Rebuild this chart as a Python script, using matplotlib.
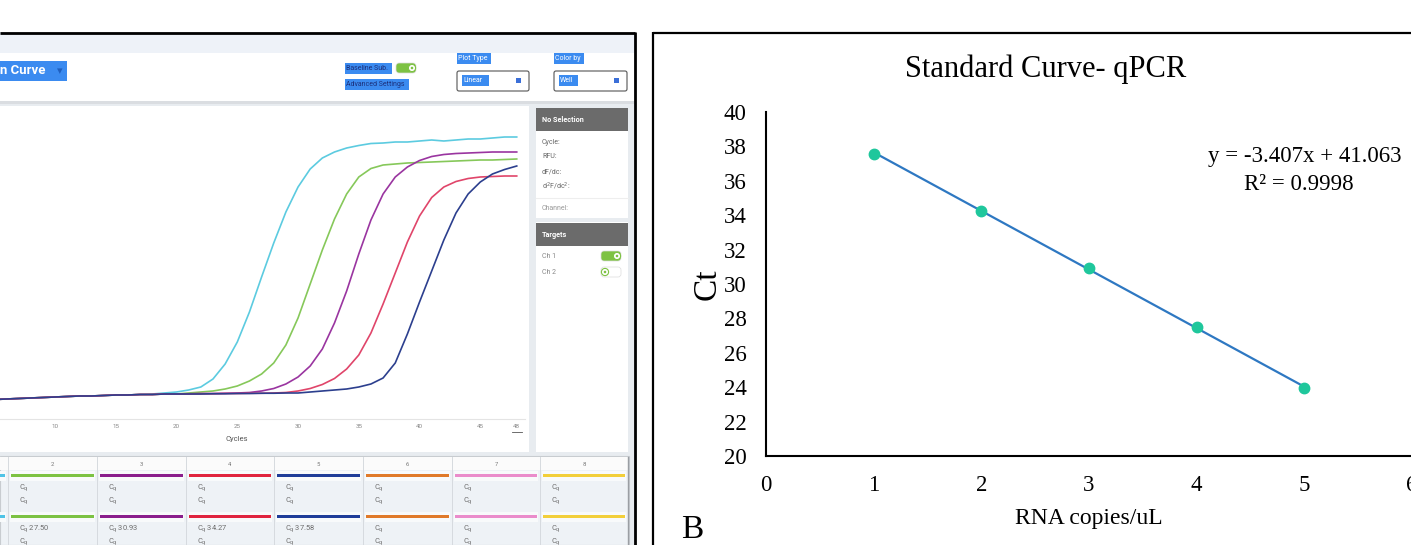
import numpy as np
import matplotlib.pyplot as plt
from matplotlib.patches import Rectangle, FancyBboxPatch, Circle

W, H = 1411, 545
DPI = 100

# --- amplification curves (RFU per cycle) ---
cycles = list(range(5, 49))
base16 = [390, 400, 410, 420, 430, 440, 450, 460, 460, 470, 480, 480, 490, 490, 500, 500]
rfu_cyan = base16[:12] + [490, 500, 520, 540, 580, 640, 800, 1100, 1540, 2140, 2840, 3520,
                          4140, 4640, 5000, 5220, 5340, 5420, 5470, 5510, 5520, 5540, 5540,
                          5560, 5580, 5560, 5580, 5600, 5600, 5620, 5640, 5640]
rfu_green = base16 + [520, 540, 560, 600, 660, 760, 900, 1120, 1480, 2020, 2700, 3380, 4000,
                      4500, 4840, 5010, 5080, 5100, 5120, 5130, 5140, 5150, 5160, 5170, 5180,
                      5180, 5190, 5200]
rfu_purple = base16 + [505, 510, 510, 515, 520, 530, 560, 610, 700, 840, 1060, 1400, 1920,
                       2560, 3300, 3980, 4500, 4840, 5040, 5170, 5250, 5290, 5310, 5320, 5330,
                       5340, 5340, 5340]
rfu_red = base16 + [500, 505, 505, 510, 510, 515, 515, 520, 530, 560, 610, 690, 810, 1000, 1280,
                    1720, 2300, 2920, 3540, 4060, 4430, 4640, 4750, 4810, 4840, 4850, 4860, 4860]
rfu_blue = base16 + [500, 500, 505, 505, 510, 510, 515, 515, 520, 520, 540, 560, 580, 600, 640,
                     700, 820, 1120, 1700, 2340, 2960, 3580, 4120, 4500, 4740, 4900, 4990, 5060]
curve_colors = ["#5ccbe0", "#86c85a", "#9a35a0", "#e0456a", "#2c3f8e"]

# --- well table ---
well_labels = ["1", "2", "3", "4", "5", "6", "7", "8"]
well_colors = ["#4fc3e6", "#7cc243", "#8a1e8c", "#e0243f", "#1f3d99", "#e07a2a", "#ea8ccb", "#f2cf3a"]
well_cq = ["", "27.50", "30.93", "34.27", "37.58", "", "", ""]

# --- standard curve ---
log_copies = [1, 2, 3, 4, 5]
ct_values = [37.58, 34.27, 30.93, 27.50, 23.96]
slope, intercept, r_squared = -3.407, 41.063, 0.9998

fig = plt.figure(figsize=(W / DPI, H / DPI), dpi=DPI)
ui = fig.add_axes([0, 0, 1, 1])
ui.set_xlim(0, W)
ui.set_ylim(H, 0)
ui.axis("off")
ui.set_zorder(0)

UIFONT = "Roboto"


def box(x0, y0, x1, y1, fc, ec="none", lw=0, z=1):
    ui.add_patch(Rectangle((x0, y0), x1 - x0, y1 - y0, facecolor=fc, edgecolor=ec,
                           linewidth=lw, zorder=z))


def label(x, y, s, size=5, color="#666666", **kw):
    kw.setdefault("va", "center")
    kw.setdefault("family", UIFONT)
    ui.text(x, y, s, fontsize=size, color=color, zorder=5, **kw)


def toggle(x0, y, on):
    fc = "#7dc242" if on else "white"
    ui.add_patch(FancyBboxPatch((x0 + 4, y - 2), 14, 4, boxstyle="round,pad=3",
                                facecolor=fc, edgecolor="#dcdcdc", linewidth=0.5, zorder=4))
    cx = x0 + 17 if on else x0 + 5
    ui.add_patch(Circle((cx, y), 3.6, facecolor="white", edgecolor="#7dc242", lw=0.8, zorder=5))
    ui.add_patch(Circle((cx, y), 1.3, facecolor="#7dc242", zorder=6))


# ---------------- left panel: software screenshot ----------------
box(0, 32, 636, 545, "#e8ecf0", z=0)
box(0, 33, 634, 53, "#eef2f8")
box(0, 53, 634, 101, "white")
box(0, 101, 634, 104, "#dadde1")

# header controls
box(0, 61, 67, 81, "#3b8bf0", z=2)
label(0, 71, "n Curve", size=9.5, color="white", weight="bold")
label(57, 71, "\u25BE", size=8, color="#1f5fbf", family="DejaVu Sans")
box(345, 63, 392, 74, "#3b8bf0", z=2)
label(346, 68.5, "Baseline Sub.", size=5, color="#1c2f7a")
toggle(395, 68, True)
box(345, 79, 409, 90, "#3b8bf0", z=2)
label(346, 84.5, "Advanced Settings", size=5, color="#1c2f7a")
for x0, x1, title, val, vx1 in [(457, 529, "Plot Type", "Linear", 489), (554, 627, "Color by", "Well", 578)]:
    box(x0, 53, x0 + (34 if title == "Plot Type" else 30), 64, "#3b8bf0", z=2)
    label(x0 + 1, 58.5, title, size=5, color="white")
    ui.add_patch(FancyBboxPatch((x0, 71), x1 - x0, 20, boxstyle="round,pad=0,rounding_size=2",
                                facecolor="white", edgecolor="#555555", linewidth=0.8, zorder=2))
    box(x0 + 5, 75, vx1, 86, "#3b8bf0", z=3)
    label(x0 + 6, 80.5, val, size=5, color="white")
    box(x1 - 13, 78, x1 - 8, 83, "#3b6fd8", z=3)

# plot card and side panel
box(0, 106, 529, 452, "white")
box(536, 108, 628, 452, "white")
box(536, 108, 628, 131, "#6b6b6b", z=2)
label(542, 119.5, "No Selection", size=5.2, color="white", weight="bold")
for yy, s in [(142, "Cycle:"), (157, "RFU:"), (172, "dF/dc:"), (186, "d$^2$F/dc$^2$:"), (209, "Channel:")]:
    label(542, yy, s, size=5, color="#666666" if s != "Channel:" else "#999999")
ui.plot([536, 628], [198, 198], color="#eeeeee", lw=0.8, zorder=3)
box(536, 218, 628, 222, "#e8ecf0", z=2)
box(536, 223, 628, 246, "#6b6b6b", z=2)
label(542, 235, "Targets", size=5.2, color="white", weight="bold")
label(542, 256, "Ch 1", size=5, color="#888888")
toggle(600, 256, True)
label(542, 273, "Ch 2", size=5, color="#888888")
toggle(600, 272, False)

# x axis extras
label(237, 439, "Cycles", size=5.5, color="#555555", ha="center")
ui.plot([512, 522], [432, 432], color="#555555", lw=0.6, zorder=5)

# well table
box(0, 456, 629, 545, "#eef2f6", ec="#c8ccd0", lw=0.8)
box(0, 457, 628, 470, "#fbfbfb", z=2)
col_edges = [-81, 8, 97, 186, 274, 363, 452, 540, 628]
for i, (lab, col, cq) in enumerate(zip(well_labels, well_colors, well_cq)):
    x0, x1 = col_edges[i], col_edges[i + 1]
    visible = x0 >= 0
    if visible:
        label((x0 + x1) / 2, 464, lab, size=4.2, color="#777777", ha="center")
    ui.plot([x0, x0], [457, 545], color="#d6dadf", lw=0.7, zorder=3)
    for yb, rows in [(475.5, ["", ""]), (516.5, [cq, ""])]:
        box(x0 + 2, yb - 5, x1 - 2, yb + 5, "#f8fafb", z=2)
        box(x0 + 3, yb - 1.6, x1 - 3, yb + 1.6, col, z=3)
        if not visible:
            continue
        for k, extra in enumerate(rows):
            ty = yb + 12.5 + 12.5 * k
            txt = "C$_\\mathregular{q}$" + (" " + extra if extra else "")
            label(x0 + 11, ty, txt, size=5.4, color="#6b6b6b")
ui.plot([628, 628], [457, 545], color="#9a9ea3", lw=1.0, zorder=3)

# black frame of the left panel
ui.plot([0, 635], [32.5, 32.5], color="black", lw=2, zorder=6, solid_capstyle="butt")
ui.plot([635, 635], [32, 545], color="black", lw=2, zorder=6, solid_capstyle="butt")

# amplification plot
ax = fig.add_axes([0, (H - 419) / H, 525 / W, (419 - 108) / H])
ax.set_zorder(2)
ax.patch.set_alpha(0)
for rfu, c in zip([rfu_cyan, rfu_green, rfu_purple, rfu_red, rfu_blue], curve_colors):
    ax.plot(cycles, rfu, color=c, lw=1.2)
ax.set_xlim(5.47, 48.68)
ax.set_ylim(0, 6220)
ax.set_xticks([10, 15, 20, 25, 30, 35, 40, 45, 48])
ax.set_xticklabels(["10", "15", "20", "25", "30", "35", "40", "45", "48"],
                   fontsize=4.5, color="#888888", family=UIFONT)
ax.set_yticks([])
ax.tick_params(axis="x", length=0, pad=3.5)
for s in ["left", "right", "top"]:
    ax.spines[s].set_visible(False)
ax.spines["bottom"].set_color("#e4e4e4")
ax.spines["bottom"].set_linewidth(0.8)

# ---------------- right panel: standard curve ----------------
SERIF = "Liberation Serif"
ui.plot([653, 653], [32, 545], color="black", lw=1.6, zorder=6, solid_capstyle="butt")
ui.plot([653, W], [32.5, 32.5], color="black", lw=1.6, zorder=6, solid_capstyle="butt")
ui.text(1046, 69, "Standard Curve- qPCR", fontsize=22, family=SERIF, ha="center", va="center")
ui.text(692, 530, "B", fontsize=24, family=SERIF, ha="center", va="center")

ax2 = fig.add_axes([766 / W, (H - 456) / H, 646 / W, (456 - 112) / H])
ax2.set_zorder(2)
ax2.patch.set_alpha(0)
ax2.plot([log_copies[0], log_copies[-1]],
         [slope * log_copies[0] + intercept, slope * log_copies[-1] + intercept],
         color="#2e78c2", lw=1.6, zorder=2)
ax2.plot(log_copies, ct_values, "o", color="#1fc79c", markersize=7.5, zorder=3)
ax2.set_xlim(0, 6)
ax2.set_ylim(20, 40)
ax2.set_xticks(range(0, 7))
ax2.set_yticks(range(20, 41, 2))
ax2.tick_params(length=0, labelsize=16.5)
ax2.tick_params(axis="y", pad=14)
ax2.tick_params(axis="x", pad=14)
for t in ax2.get_xticklabels() + ax2.get_yticklabels():
    t.set_family(SERIF)
for s in ["right", "top"]:
    ax2.spines[s].set_visible(False)
for s in ["left", "bottom"]:
    ax2.spines[s].set_linewidth(1.5)
ax2.set_ylabel("Ct", fontsize=24, family=SERIF, labelpad=1)
ax2.set_xlabel("RNA copies/uL", fontsize=17, family=SERIF, labelpad=8)
ax2.text(5.9, 37.4, f"y = {slope}x + {intercept}", fontsize=16.5, family=SERIF,
         ha="right", va="center")
ax2.text(4.95, 35.8, f"R\u00b2 = {r_squared}", fontsize=16.5, family=SERIF, ha="center", va="center")

fig.savefig("out.png", dpi=DPI)
